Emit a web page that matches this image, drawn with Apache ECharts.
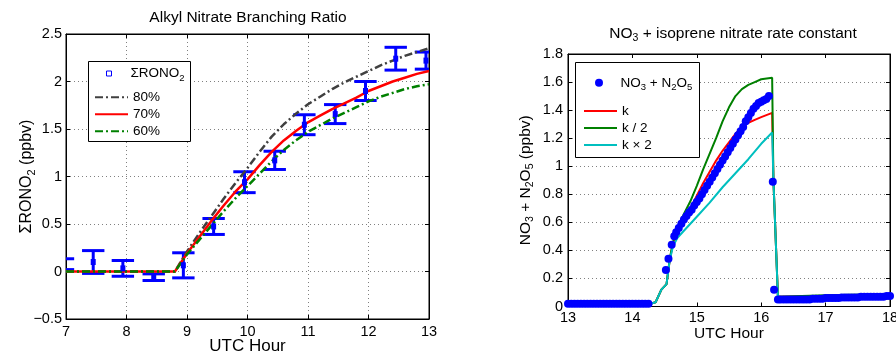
<!DOCTYPE html>
<html>
<head>
<meta charset="utf-8">
<script src="https://cdn.jsdelivr.net/npm/echarts@6/dist/echarts.min.js"></script>
<style>
html, body { margin: 0; padding: 0; background: #fff; }
#chart { width: 896px; height: 353px; }
</style>
</head>
<body>
<div id="chart"></div>
<script>
// ---- Left panel: ΣRONO2 observations (mean ± error) and branching-ratio model runs ----
const obsHours = [6.95, 7.45, 7.94, 8.45, 8.94, 9.44, 9.95, 10.45, 10.94, 11.45, 11.95, 12.45, 12.95];
const obsMean  = [0.077, 0.10, 0.033, -0.06, 0.065, 0.474, 0.94, 1.17, 1.545, 1.657, 1.90, 2.24, 2.22];
const obsErr   = [0.057, 0.12, 0.083, 0.035, 0.132, 0.084, 0.11, 0.096, 0.105, 0.10, 0.10, 0.12, 0.09];

const modelHours = [7, 8.8, 9, 9.2, 9.4, 9.6, 9.8, 10, 10.2, 10.4, 10.6, 10.8, 11, 11.2, 11.4, 11.6, 11.8, 12, 12.2, 12.4, 12.6, 12.8, 13];
const model80 = [0, 0, 0.21, 0.40, 0.58, 0.76, 0.93, 1.09, 1.26, 1.42, 1.55, 1.66, 1.76, 1.84, 1.92, 1.99, 2.05, 2.11, 2.17, 2.22, 2.27, 2.31, 2.35];
const model70 = [0, 0, 0.19, 0.36, 0.53, 0.69, 0.84, 0.97, 1.12, 1.26, 1.38, 1.48, 1.57, 1.64, 1.71, 1.77, 1.83, 1.90, 1.95, 2.00, 2.04, 2.08, 2.11];
const model60 = [0, 0, 0.18, 0.33, 0.48, 0.63, 0.77, 0.90, 1.03, 1.16, 1.28, 1.38, 1.47, 1.54, 1.61, 1.67, 1.73, 1.79, 1.84, 1.88, 1.92, 1.95, 1.97];

const leftXTicks = [7, 13, 1];
const leftYTicks = [-0.5, 2.5, 0.5];

// ---- Right panel: NO3 + N2O5 observations and runs with scaled rate constant ----
const no3Obs = [
  [13.00,0.02],[13.05,0.02],[13.10,0.02],[13.15,0.02],[13.20,0.02],[13.25,0.02],[13.30,0.02],[13.35,0.02],
  [13.40,0.02],[13.45,0.02],[13.50,0.02],[13.55,0.02],[13.60,0.02],[13.65,0.02],[13.70,0.02],[13.75,0.02],
  [13.80,0.02],[13.85,0.02],[13.90,0.02],[13.95,0.02],[14.00,0.02],[14.05,0.02],[14.10,0.02],[14.15,0.02],
  [14.20,0.02],[14.25,0.02],
  [14.52,0.26],[14.56,0.34],[14.61,0.44],[14.65,0.50],[14.68,0.53],[14.72,0.56],[14.76,0.59],[14.80,0.62],
  [14.84,0.645],[14.88,0.67],[14.92,0.69],[14.96,0.72],[15.00,0.745],[15.04,0.77],[15.08,0.80],[15.12,0.83],
  [15.16,0.86],[15.20,0.89],[15.24,0.92],[15.28,0.95],[15.32,0.98],[15.36,1.01],[15.40,1.04],[15.44,1.07],
  [15.48,1.10],[15.52,1.13],[15.56,1.16],[15.60,1.19],[15.64,1.22],[15.68,1.25],[15.72,1.28],[15.76,1.32],
  [15.80,1.35],[15.84,1.38],[15.88,1.41],[15.92,1.43],[15.96,1.45],[16.00,1.46],[16.04,1.47],[16.08,1.48],
  [16.12,1.50],[16.18,0.89],[16.20,0.12],
  [16.26,0.05],[16.30,0.05],[16.35,0.05],[16.40,0.05],[16.45,0.05],[16.50,0.05],[16.55,0.05],[16.60,0.05],
  [16.65,0.05],[16.70,0.05],[16.75,0.05],[16.80,0.055],[16.85,0.055],[16.90,0.055],[16.95,0.055],[17.00,0.06],
  [17.05,0.06],[17.10,0.06],[17.15,0.06],[17.20,0.06],[17.25,0.065],[17.30,0.065],[17.35,0.065],[17.40,0.065],
  [17.45,0.065],[17.50,0.065],[17.55,0.07],[17.60,0.07],[17.65,0.07],[17.70,0.07],[17.75,0.07],[17.80,0.07],
  [17.85,0.07],[17.90,0.07],[17.95,0.075],[18.00,0.075]
];
const rateK = [
  [13,0.02],[14.28,0.02],[14.36,0.03],[14.45,0.12],[14.53,0.16],[14.58,0.33],[14.63,0.45],[14.70,0.53],
  [14.80,0.62],[14.90,0.70],[15.00,0.79],[15.10,0.88],[15.20,0.96],[15.30,1.04],[15.40,1.11],[15.50,1.17],
  [15.60,1.23],[15.70,1.28],[15.80,1.31],[15.90,1.33],[16.00,1.35],[16.17,1.38],[16.19,0.90],[16.26,0.07],
  [17,0.075],[18,0.09]
];
const rateHalf = [
  [13,0.02],[14.28,0.02],[14.36,0.03],[14.45,0.12],[14.53,0.16],[14.58,0.34],[14.63,0.46],[14.70,0.56],
  [14.80,0.66],[14.90,0.75],[15.00,0.86],[15.10,0.98],[15.20,1.09],[15.30,1.20],[15.40,1.32],[15.50,1.42],
  [15.60,1.50],[15.70,1.55],[15.80,1.58],[15.90,1.60],[16.00,1.62],[16.17,1.63],[16.19,0.90],[16.26,0.07],
  [17,0.08],[18,0.09]
];
const rateDouble = [
  [13,0.02],[14.28,0.02],[14.36,0.03],[14.45,0.12],[14.53,0.16],[14.58,0.33],[14.63,0.43],[14.70,0.49],
  [14.80,0.54],[15.00,0.64],[15.20,0.74],[15.40,0.85],[15.60,0.95],[15.80,1.05],[16.00,1.16],[16.17,1.24],
  [16.19,0.90],[16.26,0.06],[17,0.065],[18,0.08]
];

const rightXTicks = [13, 18, 1];
const rightYTicks = [0, 1.8, 0.2];

const FONT = "'Liberation Sans', Arial, Helvetica, sans-serif";
const pair = (xs, ys) => xs.map((x, i) => [x, ys[i]]);
const errData = obsHours.map((h, i) => [h, obsMean[i] - obsErr[i], obsMean[i] + obsErr[i]]);

const gridDot = { show: true, lineStyle: { color: '#808080', width: 1, type: [1, 3] } };
const tickIn = { show: true, inside: true, length: 4, lineStyle: { color: '#000' } };
const axLine = { show: true, onZero: false, lineStyle: { color: '#000', width: 1 } };
const tickLabel = { color: '#000', fontSize: 14.5, fontFamily: FONT };
const fmtNum = v => (v < 0 ? '\u2212' + Math.abs(v) : String(+v.toFixed(1)));

function boxAxis(pos, gridIndex, ticks, extra) {
  return Object.assign({
    type: 'value', gridIndex, position: pos,
    min: ticks[0], max: ticks[1], interval: ticks[2],
    axisLine: axLine, axisTick: tickIn, nameMoveOverlap: false,
    axisLabel: { show: false }, splitLine: { show: false }
  }, extra || {});
}

const txt = (size, extra) => Object.assign({ fontSize: size, fontFamily: FONT, color: '#000', fontWeight: 'normal' }, extra || {});

const nameRich = {
  t: txt(16),
  s: txt(11, { padding: [10, 0, 0, 0] })
};
const legendRich = {
  a: txt(13.5, { lineHeight: 20 }),
  s: txt(9.5, { lineHeight: 10, padding: [9, 0, 0, 0] }),
  b: txt(13.5, { lineHeight: 14 })
};
const hideMarker = { opacity: 0 };

const chart = echarts.init(document.getElementById('chart'), null, { renderer: 'canvas' });

chart.setOption({
  animation: false,
  textStyle: { fontFamily: FONT },
  title: [
    {
      text: 'Alkyl Nitrate Branching Ratio', left: 248, top: 10, textAlign: 'center', padding: 0,
      textStyle: txt(15.5)
    },
    {
      text: '{a|NO}{s|3}{a| + isoprene nitrate rate constant}', left: 733, top: 23, textAlign: 'center', padding: 0,
      textStyle: { fontWeight: 'normal', rich: { a: txt(15.5), s: txt(10.5, { padding: [10, 0, 0, 0] }) } }
    }
  ],
  // legend frames
  graphic: [
    { type: 'rect', left: 88, top: 61, z: 3, shape: { width: 102, height: 80 }, style: { fill: '#fff', stroke: '#000', lineWidth: 1 } },
    { type: 'rect', left: 575, top: 62, z: 3, shape: { width: 124, height: 95 }, style: { fill: '#fff', stroke: '#000', lineWidth: 1 } }
  ],
  grid: [
    { left: 66, top: 34, width: 363, height: 285, outerBoundsMode: 'none', show: true, borderColor: '#000', borderWidth: 1, backgroundColor: '#fff' },
    { left: 568, top: 54, width: 322, height: 252.5, outerBoundsMode: 'none', show: true, borderColor: '#000', borderWidth: 1, backgroundColor: '#fff' }
  ],
  xAxis: [
    boxAxis('bottom', 0, leftXTicks, {
      axisLabel: Object.assign({ show: true, margin: 5, formatter: fmtNum }, tickLabel),
      splitLine: gridDot,
      name: 'UTC Hour', nameLocation: 'middle', nameGap: 19,
      nameTextStyle: txt(17)
    }),
    boxAxis('top', 0, leftXTicks),
    boxAxis('bottom', 1, rightXTicks, {
      axisLabel: Object.assign({ show: true, margin: 4, formatter: fmtNum }, tickLabel),
      name: 'UTC Hour', nameLocation: 'middle', nameGap: 19,
      nameTextStyle: txt(15.5)
    }),
    boxAxis('top', 1, rightXTicks)
  ],
  yAxis: [
    boxAxis('left', 0, leftYTicks, {
      axisLabel: Object.assign({ show: true, margin: 4, formatter: fmtNum }, tickLabel),
      splitLine: gridDot,
      name: '{t|\u03A3RONO}{s|2}{t| (ppbv)}', nameLocation: 'middle', nameGap: 29, nameRotate: 90,
      nameTextStyle: { rich: nameRich }
    }),
    boxAxis('right', 0, leftYTicks),
    boxAxis('left', 1, rightYTicks, {
      axisLabel: Object.assign({ show: true, margin: 5, formatter: fmtNum }, tickLabel),
      splitLine: gridDot,
      name: '{t|NO}{s|3}{t| + N}{s|2}{t|O}{s|5}{t| (ppbv)}', nameLocation: 'middle', nameGap: 32, nameRotate: 90,
      nameTextStyle: { rich: { t: txt(15.5), s: txt(10.5, { padding: [10, 0, 0, 0] }) } }
    }),
    boxAxis('right', 1, rightYTicks)
  ],
  legend: [
    {
      orient: 'vertical', left: 106, top: 64, padding: 0, z: 4,
      itemWidth: 33, itemHeight: 5, selectedMode: false,
      data: [{ name: 'SRONO2', icon: 'path://M0,0H10V10H0Z',
               itemStyle: { color: 'rgba(0,0,0,0)', borderColor: '#0000ff', borderWidth: 1, opacity: 1 } }],
      formatter: () => '{a|\u03A3RONO}{s|2}',
      textStyle: { rich: legendRich }
    },
    {
      orient: 'vertical', left: 94, top: 90.3, padding: 0, z: 4,
      itemWidth: 33, itemHeight: 5, itemGap: 3, selectedMode: false,
      data: [{ name: '80%', itemStyle: hideMarker }, { name: '70%', itemStyle: hideMarker }, { name: '60%', itemStyle: hideMarker }],
      formatter: n => '{b|' + n + '}',
      textStyle: { rich: legendRich }
    },
    {
      orient: 'vertical', left: 595, top: 73.3, padding: 0, z: 4,
      itemWidth: 33, itemHeight: 8, selectedMode: false,
      data: [{ name: 'NO3 + N2O5', icon: 'circle', itemStyle: { color: '#0000ff', opacity: 1 } }],
      formatter: () => '{a|NO}{s|3}{a| + N}{s|2}{a|O}{s|5}',
      textStyle: { rich: legendRich }
    },
    {
      orient: 'vertical', left: 583, top: 104, padding: 0, z: 4,
      itemWidth: 33, itemHeight: 8, itemGap: 3, selectedMode: false,
      data: [{ name: 'k', itemStyle: hideMarker }, { name: 'k / 2', itemStyle: hideMarker }, { name: 'k \u00D7 2', itemStyle: hideMarker }],
      formatter: n => '{b|' + n + '}',
      textStyle: { rich: legendRich }
    }
  ],
  series: [
    // error bars with caps
    {
      type: 'custom', name: 'errbar', xAxisIndex: 0, yAxisIndex: 0, clip: true, z: 2,
      data: errData,
      renderItem: (params, api) => {
        const x = api.value(0);
        const top = api.coord([x, api.value(2)]);
        const bot = api.coord([x, api.value(1)]);
        const half = api.size([0.185, 0])[0];
        const st = { stroke: '#0000ff', lineWidth: 3, fill: null };
        return {
          type: 'group',
          children: [
            { type: 'line', shape: { x1: top[0], y1: top[1], x2: bot[0], y2: bot[1] }, style: st },
            { type: 'line', shape: { x1: top[0] - half, y1: top[1], x2: top[0] + half, y2: top[1] }, style: st },
            { type: 'line', shape: { x1: bot[0] - half, y1: bot[1], x2: bot[0] + half, y2: bot[1] }, style: st }
          ]
        };
      }
    },
    {
      type: 'scatter', name: 'SRONO2', xAxisIndex: 0, yAxisIndex: 0, z: 2,
      symbol: 'rect', symbolSize: [5, 6], itemStyle: { color: '#0000ff', opacity: 1 },
      data: pair(obsHours, obsMean)
    },
    {
      type: 'line', name: '80%', xAxisIndex: 0, yAxisIndex: 0, z: 2, showSymbol: false, symbol: 'none',
      lineStyle: { color: '#404040', width: 2.5, type: [8, 3, 2, 3] }, itemStyle: { color: '#404040' },
      data: pair(modelHours, model80)
    },
    {
      type: 'line', name: '70%', xAxisIndex: 0, yAxisIndex: 0, z: 2, showSymbol: false, symbol: 'none',
      lineStyle: { color: '#ff0000', width: 2.5 }, itemStyle: { color: '#ff0000' },
      data: pair(modelHours, model70)
    },
    {
      type: 'line', name: '60%', xAxisIndex: 0, yAxisIndex: 0, z: 2, showSymbol: false, symbol: 'none',
      lineStyle: { color: '#008000', width: 2.5, type: [8, 3, 2, 3] }, itemStyle: { color: '#008000' },
      data: pair(modelHours, model60)
    },
    {
      type: 'scatter', name: 'NO3 + N2O5', xAxisIndex: 2, yAxisIndex: 2, z: 2,
      symbol: 'circle', symbolSize: 8, itemStyle: { color: '#0000ff', opacity: 1 },
      data: no3Obs
    },
    {
      type: 'line', name: 'k', xAxisIndex: 2, yAxisIndex: 2, z: 2, showSymbol: false, symbol: 'none',
      lineStyle: { color: '#ff0000', width: 2 }, itemStyle: { color: '#ff0000' },
      data: rateK
    },
    {
      type: 'line', name: 'k / 2', xAxisIndex: 2, yAxisIndex: 2, z: 2, showSymbol: false, symbol: 'none',
      lineStyle: { color: '#008000', width: 2 }, itemStyle: { color: '#008000' },
      data: rateHalf
    },
    {
      type: 'line', name: 'k \u00D7 2', xAxisIndex: 2, yAxisIndex: 2, z: 2, showSymbol: false, symbol: 'none',
      lineStyle: { color: '#00bfbf', width: 2 }, itemStyle: { color: '#00bfbf' },
      data: rateDouble
    }
  ]
});
</script>
</body>
</html>
